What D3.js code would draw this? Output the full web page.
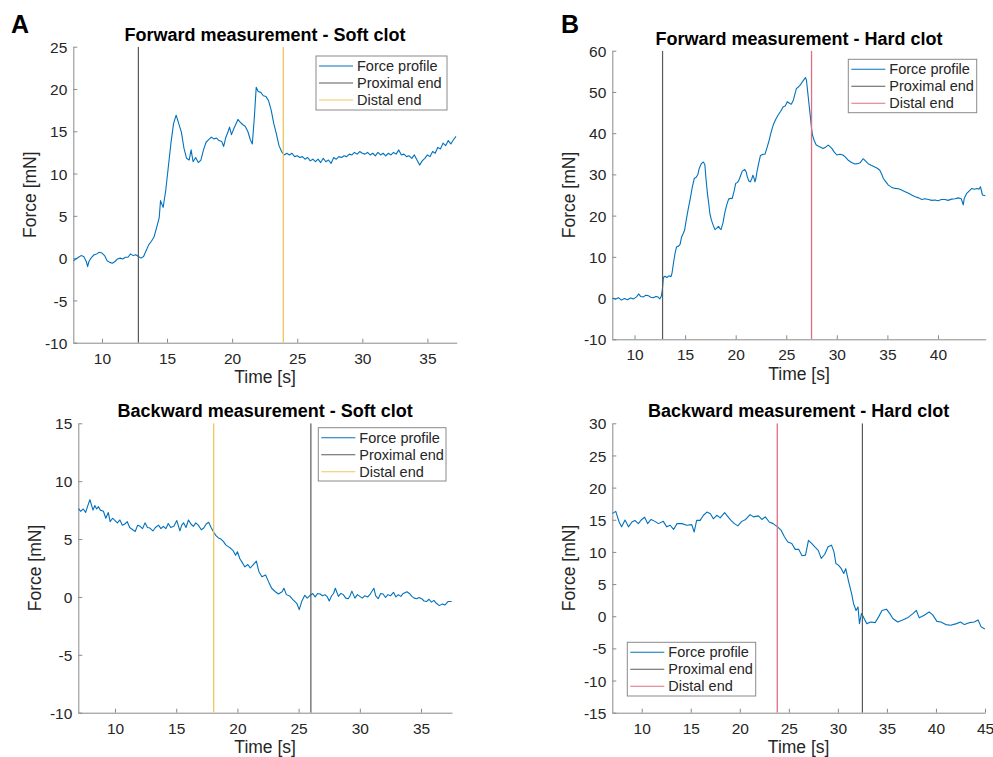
<!DOCTYPE html>
<html>
<head>
<meta charset="utf-8">
<script src="https://cdn.jsdelivr.net/npm/d3@7"></script>
<style>
  html, body { margin: 0; padding: 0; background: #fff; }
  svg { display: block; font-family: "Liberation Sans", Arial, Helvetica, sans-serif; }
</style>
</head>
<body>
<svg id="chart" width="993" height="757"></svg>
<script>
// ---------------- DATA ----------------
// Panel A: Forward measurement - Soft clot
const timeA = [7.8,8.0,8.2,8.4,8.6,8.8,8.9,9.0,9.2,9.4,9.6,9.8,10.0,10.2,10.4,10.6,10.8,11.0,11.2,11.4,11.6,11.8,12.0,12.2,12.4,12.6,12.8,13.0,13.2,13.4,13.6,13.8,14.0,14.2,14.4,14.5,14.7,14.9,15.1,15.3,15.5,15.7,15.9,16.1,16.3,16.5,16.7,16.85,17.0,17.2,17.4,17.6,17.8,18.0,18.2,18.4,18.6,18.8,19.0,19.2,19.35,19.5,19.7,19.8,19.95,20.1,20.3,20.45,20.6,20.8,21.0,21.2,21.4,21.55,21.7,21.85,22.0,22.2,22.4,22.6,22.8,23.0,23.2,23.4,23.6,23.8,24.0,24.2,24.4,24.6,24.8,25.0,25.2,25.4,25.6,25.8,26.0,26.2,26.4,26.6,26.8,27.0,27.2,27.4,27.6,27.8,28.0,28.2,28.4,28.6,28.8,29.0,29.2,29.4,29.6,29.8,30.0,30.2,30.4,30.6,30.8,31.0,31.2,31.4,31.6,31.8,32.0,32.2,32.4,32.6,32.8,33.0,33.2,33.4,33.6,33.8,34.0,34.2,34.4,34.6,34.8,35.0,35.2,35.4,35.6,35.8,36.0,36.2,36.4,36.6,36.8,37.0,37.2];
const forceA = [-0.3,-0.1,0.1,0.3,0.2,-0.4,-1.0,-0.4,0.1,0.4,0.5,0.7,0.6,0.3,-0.3,-0.5,-0.6,-0.4,-0.1,0.0,-0.1,0.1,0.1,0.5,0.3,0.4,0.2,0.0,0.2,0.9,1.6,2.0,2.5,3.6,4.8,6.8,6.0,8.0,10.8,13.6,15.9,16.9,15.9,14.9,13.0,11.8,11.6,12.8,11.4,11.9,11.3,11.6,12.8,13.7,14.0,14.3,14.1,14.2,13.9,13.8,13.2,14.2,15.0,15.5,14.6,15.2,15.9,16.4,16.1,15.8,15.6,15.0,14.0,13.5,16.5,20.2,19.7,19.6,19.2,19.1,18.6,17.5,15.9,14.7,13.3,12.6,12.2,12.4,12.2,12.4,12.0,12.1,11.9,12.0,11.7,11.9,11.5,11.7,11.4,11.7,11.3,11.8,11.4,11.6,11.2,11.9,11.7,12.0,11.9,12.1,12.0,12.3,12.2,12.5,12.3,12.6,12.4,12.3,12.5,12.2,12.4,12.1,12.5,12.2,12.4,12.1,12.4,12.2,12.5,12.3,12.8,12.2,12.3,12.0,12.1,11.8,12.2,11.6,11.0,11.5,11.8,12.2,12.0,12.6,12.4,13.1,12.9,13.6,13.3,13.9,13.5,14.0,14.4];

// Panel B: Forward measurement - Hard clot
const timeB = [7.8,8.1,8.4,8.7,9.0,9.3,9.6,9.9,10.2,10.4,10.6,10.9,11.1,11.35,11.6,11.85,12.1,12.3,12.5,12.65,12.75,12.85,13.0,13.2,13.4,13.6,13.7,13.85,14.0,14.15,14.35,14.5,14.65,14.8,14.95,15.1,15.3,15.5,15.7,15.9,16.1,16.25,16.4,16.6,16.8,16.95,17.05,17.2,17.3,17.45,17.6,17.8,17.95,18.1,18.3,18.45,18.55,18.75,18.9,19.1,19.3,19.5,19.65,19.85,20.0,20.15,20.3,20.5,20.65,20.9,21.05,21.15,21.3,21.45,21.6,21.7,21.8,21.9,22.0,22.1,22.3,22.45,22.7,22.9,23.1,23.3,23.5,23.7,23.95,24.2,24.45,24.7,24.9,25.1,25.35,25.5,25.7,25.85,26.0,26.2,26.35,26.55,26.7,26.9,27.0,27.1,27.25,27.35,27.5,27.6,27.75,27.95,28.15,28.4,28.65,28.9,29.15,29.3,29.5,29.75,30.0,30.3,30.6,30.85,31.1,31.45,31.8,32.05,32.3,32.6,32.85,33.1,33.4,33.75,34.0,34.25,34.45,34.6,34.85,35.1,35.4,35.75,36.1,36.4,36.75,37.1,37.4,37.75,38.1,38.4,38.7,39.05,39.4,39.7,40.0,40.35,40.7,41.0,41.35,41.7,42.0,42.3,42.5,42.6,42.85,43.1,43.35,43.6,43.85,44.05,44.2,44.4,44.7];
const forceB = [0.0,-0.3,0.1,-0.5,-0.1,-0.4,0.0,-0.2,0.3,1.0,0.4,0.3,0.7,0.6,0.2,0.1,0.4,0.3,-0.2,0.5,2.0,5.0,5.3,5.0,5.4,5.2,6.0,8.5,10.8,12.4,12.6,13.0,14.8,15.6,16.5,18.8,21.5,24.0,26.8,29.0,29.3,29.9,31.5,32.6,33.0,32.4,29.3,25.5,23.6,20.5,18.9,17.5,16.6,16.9,17.4,16.8,16.6,18.3,20.4,22.5,24.0,24.2,24.1,26.0,27.8,28.0,28.5,29.8,30.8,31.2,30.5,29.4,28.4,28.2,29.0,29.8,29.2,28.2,29.0,30.6,33.0,34.6,34.9,34.9,36.5,38.2,40.2,41.9,43.3,44.4,45.3,46.4,46.6,47.6,47.2,47.0,48.0,49.4,50.8,51.2,51.6,52.3,52.8,53.5,52.8,50.5,47.0,44.8,41.2,39.5,38.3,37.2,36.9,36.6,36.3,36.6,37.1,36.8,36.3,35.4,34.7,34.9,34.7,34.2,33.5,32.9,32.5,32.6,32.8,33.8,33.2,32.6,32.2,31.8,31.5,31.0,30.0,29.0,28.2,27.4,26.9,26.6,26.5,26.2,25.8,25.4,25.0,24.6,24.3,23.9,24.1,23.9,23.7,23.8,23.6,23.9,23.9,23.7,24.0,24.1,24.3,24.1,22.6,24.2,25.4,26.0,26.6,26.4,26.6,26.4,27.0,25.0,24.8];

// Panel C: Backward measurement - Soft clot
const timeC = [7.0,7.2,7.4,7.6,7.75,7.95,8.2,8.35,8.5,8.65,8.8,9.05,9.25,9.45,9.6,9.8,10.0,10.2,10.4,10.6,10.8,11.0,11.2,11.45,11.65,11.85,12.05,12.25,12.45,12.65,12.85,13.1,13.3,13.55,13.75,13.95,14.15,14.35,14.55,14.8,15.05,15.3,15.45,15.6,15.8,16.0,16.2,16.4,16.6,16.8,17.05,17.25,17.45,17.65,17.85,18.05,18.25,18.45,18.65,18.85,19.05,19.25,19.45,19.65,19.85,20.0,20.2,20.35,20.6,20.85,21.05,21.3,21.55,21.75,22.0,22.3,22.55,22.8,23.1,23.35,23.65,23.8,24.0,24.3,24.55,24.85,25.05,25.25,25.5,25.7,25.9,26.15,26.35,26.55,26.75,26.95,27.15,27.35,27.5,27.7,27.85,28.0,28.25,28.45,28.65,28.85,29.05,29.2,29.35,29.6,29.8,30.0,30.2,30.4,30.65,30.85,31.15,31.3,31.5,31.7,31.9,32.1,32.3,32.5,32.75,32.95,33.15,33.35,33.55,33.85,34.05,34.25,34.45,34.65,34.85,35.05,35.25,35.45,35.65,35.85,36.05,36.25,36.5,36.75,36.95,37.2,37.5];
const forceC = [7.65,7.4,7.6,7.3,7.8,8.4,7.5,7.9,7.6,7.8,7.5,7.4,6.8,7.3,6.5,6.8,6.6,6.4,6.65,6.2,6.3,6.5,6.0,5.8,5.65,6.2,6.1,5.9,6.4,6.0,5.95,5.7,6.0,6.2,5.9,6.1,5.9,6.35,6.0,6.1,6.6,5.7,6.2,6.4,6.0,6.65,6.3,6.1,6.4,6.2,5.8,5.95,6.3,6.45,6.0,5.6,5.3,5.1,5.0,4.8,4.5,4.35,4.2,4.0,3.6,3.9,3.3,3.05,2.6,2.8,2.5,2.8,3.1,2.2,1.75,1.9,1.3,0.75,0.45,0.25,0.45,0.75,0.2,0.05,-0.25,-0.55,-1.1,-0.4,0.15,-0.1,0.1,0.3,0.0,0.3,0.25,0.1,0.2,0.0,-0.35,0.1,0.3,0.75,0.05,0.3,0.2,-0.1,-0.15,0.1,0.5,-0.1,0.2,0.05,-0.1,0.1,0.0,0.25,0.75,0.1,-0.15,0.3,0.25,-0.05,0.2,0.1,0.4,0.0,0.2,0.05,0.3,0.45,0.3,0.05,-0.1,-0.15,-0.05,-0.15,-0.35,-0.4,-0.2,-0.45,-0.3,-0.55,-0.75,-0.6,-0.7,-0.4,-0.4];

// Panel D: Backward measurement - Hard clot
const timeD = [7.0,7.35,7.7,7.95,8.3,8.65,9.0,9.3,9.65,10.0,10.3,10.6,10.95,11.35,11.7,12.2,12.55,12.9,13.25,13.6,14.1,14.6,15.1,15.35,15.6,15.95,16.3,16.65,17.0,17.3,17.65,18.0,18.45,18.8,19.1,19.45,19.8,20.2,20.6,21.05,21.4,21.9,22.25,22.6,23.0,23.4,23.85,24.2,24.55,24.9,25.3,25.65,26.0,26.35,26.7,27.0,27.35,27.65,28.0,28.3,28.65,29.0,29.35,29.6,29.8,30.05,30.35,30.6,30.8,31.1,31.4,31.6,31.85,32.05,32.2,32.4,32.6,32.95,33.35,33.8,34.15,34.5,34.95,35.3,35.6,36.1,36.6,37.1,37.65,38.0,38.3,38.8,39.3,39.65,40.1,40.5,41.0,41.5,42.1,42.5,42.9,43.4,43.9,44.3,44.6,45.0];
const forceD = [15.95,16.3,14.65,13.9,14.95,13.9,14.65,14.9,14.4,15.05,15.4,14.4,15.05,14.75,14.4,14.75,13.9,14.15,13.5,14.4,14.4,14.15,14.25,13.1,14.9,14.9,15.7,16.2,15.95,15.15,15.7,15.3,16.1,15.45,14.9,14.4,14.05,14.75,15.05,15.8,15.45,15.6,15.05,15.45,14.65,14.4,13.9,13.4,12.35,11.55,11.3,10.4,10.4,9.4,9.5,11.8,11.3,10.8,10.25,9.0,9.6,10.8,11.05,10.0,8.2,7.95,7.4,6.65,7.4,5.35,3.5,1.95,0.9,1.45,-1.15,0.4,-0.1,-1.15,-0.9,-1.0,-0.1,0.9,1.1,0.4,-0.35,-0.9,-0.6,-0.25,0.4,0.9,-0.25,0.15,0.65,0.25,-0.8,-0.9,-1.3,-1.4,-1.15,-0.9,-1.3,-1.0,-0.9,-0.6,-1.65,-2.0];

// Tick labels
const xTicksA = [10, 15, 20, 25, 30, 35];
const yTicksA = [-10, -5, 0, 5, 10, 15, 20, 25];
const xTicksB = [10, 15, 20, 25, 30, 35, 40];
const yTicksB = [-10, 0, 10, 20, 30, 40, 50, 60];
const xTicksC = [10, 15, 20, 25, 30, 35];
const yTicksC = [-10, -5, 0, 5, 10, 15];
const xTicksD = [10, 15, 20, 25, 30, 35, 40, 45];
const yTicksD = [-15, -10, -5, 0, 5, 10, 15, 20, 25, 30];

// Marker positions (time of proximal / distal ends)
const proximalTimes = { A: 12.8, B: 12.77, C: 26.0, D: 32.5 };
const distalTimes = { A: 23.93, B: 27.5, C: 18.06, D: 23.82 };

const legendLabels = ["Force profile", "Proximal end", "Distal end"];
const titles = {
  A: "Forward measurement - Soft clot",
  B: "Forward measurement - Hard clot",
  C: "Backward measurement - Soft clot",
  D: "Backward measurement - Hard clot"
};
// --------------------------------------

const BLUE = "#0072BD", PROX = "#5a5a5a", YELLOW = "#f2c55c", RED = "#de6f83";
const TEXT = "#262626", AXIS = "#8a8a8a";

const panels = [
  { id: "A", time: timeA, force: forceA, xTicks: xTicksA, yTicks: yTicksA,
    xDomain: [7.8, 37.25], yDomain: [-10, 25],
    box: { l: 73.3, r: 456.7, t: 46.7, b: 342.7 }, distalColor: YELLOW,
    legend: { x: 316, y: 56, w: 131, h: 54 } },
  { id: "B", time: timeB, force: forceB, xTicks: xTicksB, yTicks: yTicksB,
    xDomain: [7.8, 44.72], yDomain: [-10, 60],
    box: { l: 612.3, r: 985.7, t: 50.7, b: 339.3 }, distalColor: RED,
    legend: { x: 848.3, y: 59.3, w: 128.4, h: 53.4 } },
  { id: "C", time: timeC, force: forceC, xTicks: xTicksC, yTicks: yTicksC,
    xDomain: [7.0, 37.53], yDomain: [-10, 15],
    box: { l: 78.3, r: 452, t: 423.3, b: 712.7 }, distalColor: YELLOW,
    legend: { x: 318.3, y: 427.7, w: 127.7, h: 53.3 } },
  { id: "D", time: timeD, force: forceD, xTicks: xTicksD, yTicks: yTicksD,
    xDomain: [7.0, 45.0], yDomain: [-15, 30],
    box: { l: 612.3, r: 985, t: 423.3, b: 712.7 }, distalColor: RED,
    legend: { x: 627.3, y: 642.3, w: 128.4, h: 53.7 } }
];

const svg = d3.select("#chart");

panels.forEach(p => {
  const b = p.box;
  const x = d3.scaleLinear().domain(p.xDomain).range([b.l, b.r]);
  const y = d3.scaleLinear().domain(p.yDomain).range([b.b, b.t]);
  const g = svg.append("g");

  const clipId = "clip" + p.id;
  svg.append("clipPath").attr("id", clipId)
    .append("rect").attr("x", b.l).attr("y", b.t)
    .attr("width", b.r - b.l).attr("height", b.b - b.t);

  // Axes (MATLAB style: box off, ticks inward)
  const xAxis = d3.axisBottom(x).tickValues(p.xTicks).tickSizeInner(-4).tickSizeOuter(0)
    .tickPadding(9).tickFormat(d => String(d));
  const yAxis = d3.axisLeft(y).tickValues(p.yTicks).tickSizeInner(-4).tickSizeOuter(0)
    .tickPadding(9).tickFormat(d => String(d));

  const gx = g.append("g").attr("transform", `translate(0,${b.b})`).call(xAxis);
  const gy = g.append("g").attr("transform", `translate(${b.l},0)`).call(yAxis);
  [gx, gy].forEach(ax => {
    ax.select(".domain").attr("stroke", AXIS).attr("stroke-width", 1);
    ax.selectAll(".tick line").attr("stroke", AXIS).attr("stroke-width", 1);
    ax.selectAll(".tick text").attr("fill", TEXT).attr("font-size", 15.5)
      .attr("font-family", "'Liberation Sans', Arial, sans-serif");
  });
  gx.selectAll(".tick text").attr("dy", null).attr("y", 21).attr("dominant-baseline", "auto");
  gy.selectAll(".tick text").attr("dy", "0.36em").attr("x", -6);

  // Force profile
  const data = p.time.map((t, i) => [t, p.force[i]]);
  const plot = g.append("g").attr("clip-path", `url(#${clipId})`);
  plot.append("path").datum(data)
    .attr("fill", "none").attr("stroke", BLUE).attr("stroke-width", 1.1)
    .attr("stroke-linejoin", "round")
    .attr("d", d3.line().x(d => x(d[0])).y(d => y(d[1])));

  // Vertical markers
  plot.append("line")
    .attr("x1", x(proximalTimes[p.id])).attr("x2", x(proximalTimes[p.id]))
    .attr("y1", b.t).attr("y2", b.b)
    .attr("stroke", PROX).attr("stroke-width", 1.2);
  plot.append("line")
    .attr("x1", x(distalTimes[p.id])).attr("x2", x(distalTimes[p.id]))
    .attr("y1", b.t).attr("y2", b.b)
    .attr("stroke", p.distalColor).attr("stroke-width", 1.3);

  // Title
  g.append("text").attr("x", (b.l + b.r) / 2).attr("y", b.t - 6)
    .attr("text-anchor", "middle").attr("font-weight", "bold").attr("font-size", 18)
    .attr("fill", "#000").text(titles[p.id]);

  // Axis labels
  g.append("text").attr("x", (b.l + b.r) / 2).attr("y", b.b + 40.5)
    .attr("text-anchor", "middle").attr("font-size", 17.5).attr("fill", TEXT)
    .text("Time [s]");
  g.append("text")
    .attr("transform", `translate(${b.l - 37},${(b.t + b.b) / 2}) rotate(-90)`)
    .attr("text-anchor", "middle").attr("font-size", 17.5).attr("fill", TEXT)
    .text("Force [mN]");

  // Legend
  const L = p.legend;
  const lg = g.append("g");
  lg.append("rect").attr("x", L.x).attr("y", L.y).attr("width", L.w).attr("height", L.h)
    .attr("fill", "#fff").attr("stroke", "#8a8a8a").attr("stroke-width", 1);
  const colors = [BLUE, PROX, p.distalColor];
  legendLabels.forEach((lab, i) => {
    const ry = L.y + 10 + i * 17;
    lg.append("line").attr("x1", L.x + 3).attr("x2", L.x + 37)
      .attr("y1", ry).attr("y2", ry).attr("stroke", colors[i]).attr("stroke-width", 1.1);
    lg.append("text").attr("x", L.x + 41).attr("y", ry).attr("dy", "0.35em")
      .attr("font-size", 14.5).attr("fill", TEXT).text(lab);
  });
});

// Panel letters
svg.append("text").attr("x", 11).attr("y", 33).attr("font-size", 25).attr("font-weight", "bold")
  .attr("fill", "#000").text("A");
svg.append("text").attr("x", 561).attr("y", 33).attr("font-size", 25).attr("font-weight", "bold")
  .attr("fill", "#000").text("B");
</script>
</body>
</html>
